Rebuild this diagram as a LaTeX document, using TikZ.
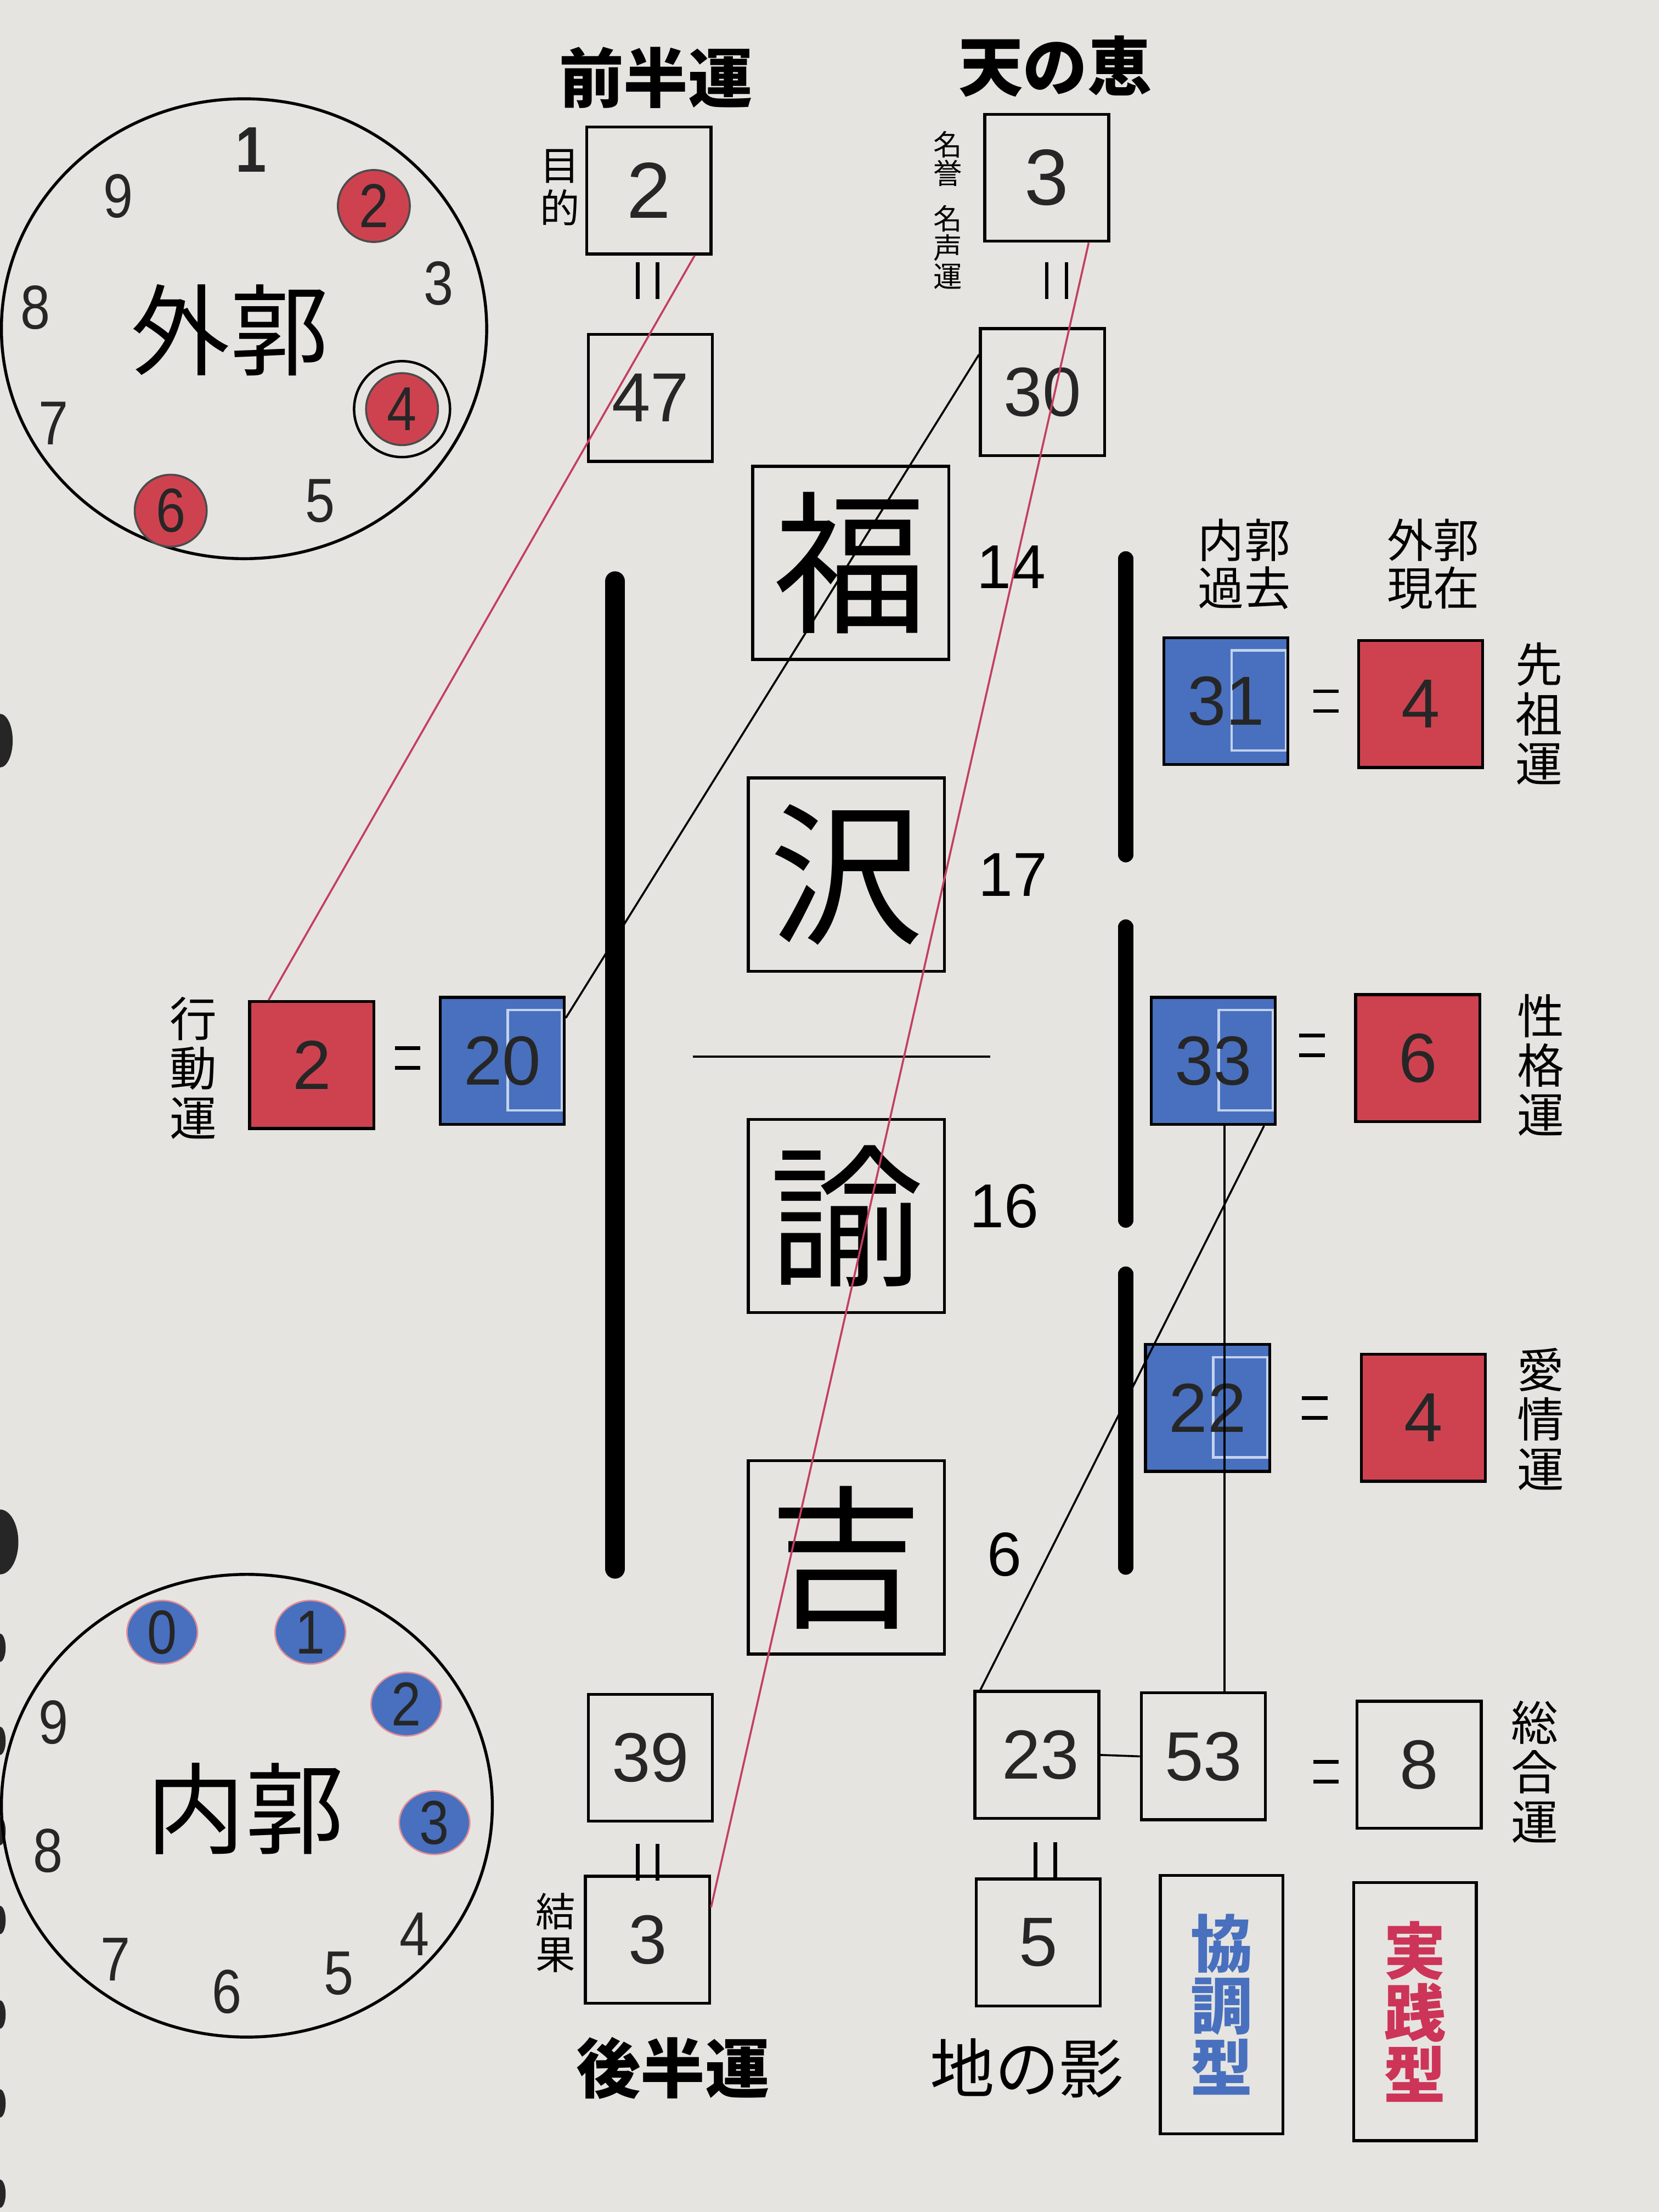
\documentclass[tikz,border=0pt]{standalone}
\usepackage{fontspec}
\setmainfont{Liberation Sans}
\newfontfamily\jp{Noto Sans CJK JP}
\newfontfamily\narrow[FakeStretch=0.86]{Liberation Sans}
\usepackage{tikz}
\usetikzlibrary{calc,shapes.geometric}
\definecolor{Papel}{RGB}{230,228,224}
\definecolor{RojoGaikaku}{RGB}{206,66,80}
\definecolor{AzulNaikaku}{RGB}{72,112,190}
\definecolor{LineaRoja}{RGB}{196,62,96}
\definecolor{MarcoClaro}{RGB}{196,210,238}
\definecolor{TintaRoja}{RGB}{204,52,88}
\newlength\ux \setlength\ux{0.01cm}

\begin{document}
\begin{tikzpicture}[x=0.01cm,y={(0,-0.01cm)},line width=0.4pt,
  numbox/.style={draw,line width=0.6pt,minimum width=88\ux,minimum height=90\ux,
    inner sep=0pt,text=black!85,font=\fontsize{14}{14}\selectfont},
  redbox/.style={numbox,fill=RojoGaikaku},
  bluebox/.style={numbox,fill=AzulNaikaku,
    path picture={\draw[MarcoClaro,line width=0.5pt]
      ($(path picture bounding box.north)+(4,9)$) rectangle
      ($(path picture bounding box.south east)+(-1.5,-10)$);}},
  kanjibox/.style={draw,line width=0.6pt,minimum width=139\ux,minimum height=137\ux,
    inner sep=0pt,font=\jp\fontsize{31}{31}\selectfont},
  typebox/.style={draw,line width=0.6pt,minimum width=87\ux,minimum height=183\ux,
    inner sep=0pt,align=center,font=\jp\bfseries\fontsize{12.5}{12.5}\selectfont},
  vlabel/.style={align=center,inner sep=0pt,font=\jp\fontsize{9.5}{10}\selectfont},
  head/.style={inner sep=0pt,font=\jp\bfseries\fontsize{13}{13}\selectfont},
  side/.style={inner sep=0pt,font=\fontsize{12.5}{12.5}\selectfont},
  dial/.style={inner sep=0pt,text=black!85,font=\narrow\fontsize{12.5}{12.5}\selectfont},
  reddot/.style={circle,dial,fill=RojoGaikaku,draw=black!70,minimum size=51\ux},
  bluedot/.style={ellipse,dial,fill=AzulNaikaku,draw=RojoGaikaku!60,line width=0.3pt,
    minimum width=50\ux,minimum height=45\ux},
  eqh/.pic={\draw[line width=0.75pt] (-9,-7) -- (9,-7) (-9,7) -- (9,7);},
  eqv/.pic={\draw[line width=0.75pt] (-7,-13) -- (-7,13) (7,-13) -- (7,13);}]

  % paper
  \fill[Papel] (0,0) rectangle (1176,1568);
  \useasboundingbox (0,0) rectangle (1176,1568);
  \foreach \yh/\rx/\ry in {525/9/19,1093/13/23,1168/4/10,1234/4/10,1298/4/10,
                           1361/4/10,1428/4/10,1491/4/10,1555/4/10}
    \fill[black!85] (0,\yh) ellipse [x radius=\rx, y radius=\ry];

  % outer dial
  \draw[line width=0.6pt] (173,233) ellipse [x radius=172, y radius=163];
  \node[font=\jp\fontsize{20}{20}\selectfont] (gaikaku) at (163,234) {外郭};
  \foreach \d/\xd/\yd in {3/311/201,5/227/355,7/38/300,8/25/218,9/84/139}
    \node[dial] (g\d) at (\xd,\yd) {\d};
  \node[dial,font=\narrow\bfseries\fontsize{13}{13}\selectfont] (g1) at (178,106) {1};
  \node[reddot] (g2) at (265,146) {2};
  \node[reddot] (g4) at (285,290) {4};
  \draw[line width=0.5pt] (g4.center) circle [radius=34];
  \node[reddot] (g6) at (121,362) {6};

  % inner dial
  \draw[line width=0.6pt] (175,1280) ellipse [x radius=174, y radius=164];
  \node[font=\jp\fontsize{20}{20}\selectfont] (naikaku) at (174,1282) {内郭};
  \foreach \d/\xd/\yd in {4/294/1371,5/240/1399,6/161/1412,7/82/1389,8/34/1312,9/38/1221}
    \node[dial] (n\d) at (\xd,\yd) {\d};
  \node[bluedot] (n0) at (115,1157) {0};
  \node[bluedot] (n1) at (220,1157) {1};
  \node[bluedot] (n2) at (288,1208) {2};
  \node[bluedot] (n3) at (308,1292) {3};

  % top row
  \node[head] (hzenhan) at (465,55) {前半運};
  \node[head] (hten) at (748,47) {天の恵};
  \node[numbox,font=\fontsize{16}{16}\selectfont] (mokuteki) at (460,135) {2};
  \node[vlabel,font=\jp\fontsize{8}{8.6}\selectfont] (lmokuteki) at (397,133) {目\\的};
  \pic at (459,199) {eqv};
  \node[numbox] (b47) at (461,282) {47};
  \node[numbox,font=\fontsize{16}{16}\selectfont] (meisei) at (742,126) {3};
  \node[vlabel,font=\jp\fontsize{5.8}{5.8}\selectfont] (lmeisei) at (672,149)
    {名\\誉\\[3.4pt]名\\声\\運};
  \pic at (749,199) {eqv};
  \node[numbox] (b30) at (739,278) {30};

  % name column
  \node[kanjibox] (fuku) at (603,399) {福};
  \node[kanjibox] (sawa) at (600,620) {沢};
  \node[kanjibox] (yu) at (600,862) {諭};
  \node[kanjibox] (kichi) at (600,1104) {吉};
  \node[side] (s14) at (717,402) {14};
  \node[side] (s17) at (718,620) {17};
  \node[side] (s16) at (712,855) {16};
  \node[side] (s6) at (712,1102) {6};
  \draw[line width=0.5pt] (491,749) -- (702,749);
  \draw[line width=4pt,line cap=round] (436,412) -- (436,1112);
  \draw[line width=3pt,line cap=round] (798,396) -- (798,606);
  \draw[line width=3pt,line cap=round] (798,657) -- (798,865);
  \draw[line width=3pt,line cap=round] (798,903) -- (798,1111);

  % right side
  \node[vlabel,font=\jp\fontsize{9.3}{9.6}\selectfont] (lnaikaku) at (882,400) {内郭\\過去};
  \node[vlabel,font=\jp\fontsize{9.3}{9.6}\selectfont] (lgaikaku) at (1016,400) {外郭\\現在};
  \node[bluebox] (bl31) at (869,497) {31};
  \pic at (940,497) {eqh};
  \node[redbox] (rd4a) at (1007,499) {4};
  \node[vlabel] (lsenzo) at (1091,506) {先\\祖\\運};
  \node[bluebox] (bl33) at (860,752) {33};
  \pic at (930,741) {eqh};
  \node[redbox] (rd6) at (1005,750) {6};
  \node[vlabel] (lseikaku) at (1092,755) {性\\格\\運};
  \node[bluebox] (bl22) at (856,998) {22};
  \pic at (932,998) {eqh};
  \node[redbox] (rd4b) at (1009,1005) {4};
  \node[vlabel] (laijo) at (1092,1006) {愛\\情\\運};

  % left side
  \node[vlabel] (lkodo) at (137,757) {行\\動\\運};
  \node[redbox] (rd2) at (221,755) {2};
  \pic at (289,750) {eqh};
  \node[bluebox] (bl20) at (356,752) {20};

  % bottom row
  \node[numbox] (b39) at (461,1246) {39};
  \pic at (459,1320) {eqv};
  \node[numbox] (kekka) at (459,1375) {3};
  \node[vlabel,font=\jp\fontsize{8}{8.6}\selectfont] (lkekka) at (394,1370) {結\\果};
  \node[head] (hkohan) at (477,1466) {後半運};
  \node[numbox,text width=88\ux,align=right] (b23) at (735,1244) {23\hspace*{4pt}};
  \node[numbox] (b53) at (853,1245) {53};
  \pic at (940,1256) {eqh};
  \node[numbox] (b8) at (1006,1251) {8};
  \node[vlabel] (lsogo) at (1088,1256) {総\\合\\運};
  \pic at (741,1319) {eqv};
  \node[numbox] (b5) at (736,1377) {5};
  \node[head,font=\jp\fontsize{13}{13}\selectfont] (hchi) at (728,1466) {地の影};
  \node[typebox,text=AzulNaikaku] (kyocho) at (866,1421) {協\\調\\型};
  \node[typebox,text=TintaRoja] (jissen) at (1003,1426) {実\\践\\型};

  % connecting lines
  \draw[LineaRoja] ($(mokuteki.south west)!0.86!(mokuteki.south east)$)
    -- ($(rd2.north west)!0.16!(rd2.north east)$);
  \draw[LineaRoja] ($(meisei.south west)!0.83!(meisei.south east)$)
    -- ($(kekka.north east)!0.25!(kekka.south east)$);
  \draw ($(b30.north west)!0.21!(b30.south west)$)
    -- ($(bl20.north east)!0.17!(bl20.south east)$);
  \draw ($(bl33.south west)!0.9!(bl33.south east)$) -- ($(b23.north west)+(5,0)$);
  \draw ($(bl33.south west)!0.59!(bl33.south east)$) coordinate (v33) -- (v33 |- b53.north);
  \draw (b23.east) -- (b53.west);
\end{tikzpicture}
\end{document}
